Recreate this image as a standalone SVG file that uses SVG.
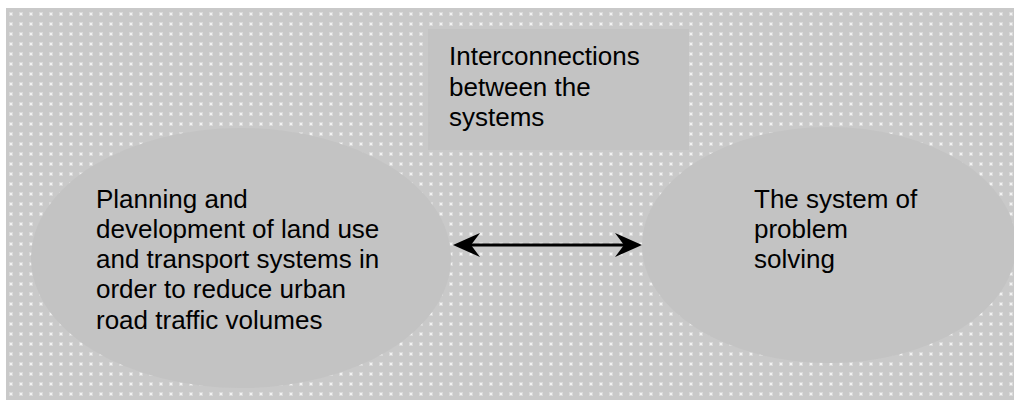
<svg xmlns="http://www.w3.org/2000/svg" width="1014" height="403" viewBox="0 0 1014 403">
  <defs>
    <!-- dotted backdrop: grey field with small light squares every 10px -->
    <pattern id="dots" x="6" y="9" width="10" height="10" patternUnits="userSpaceOnUse">
      <rect width="10" height="10" fill="#c9c9c9"/>
      <rect x="3" y="3" width="4" height="4" fill="#d9d9d9"/>
      <rect x="4" y="4" width="2" height="2" fill="#f2f2f2"/>
    </pattern>
    <!-- barbed arrowhead, tip at the far end of the path -->
    <marker id="head" viewBox="0 0 28 26" refX="22" refY="13" markerWidth="28" markerHeight="26" markerUnits="userSpaceOnUse" orient="auto-start-reverse">
      <path d="M28,13 L1,1 L10,13 L1,25 Z" fill="#000"/>
    </marker>
  </defs>
  <style>
    .shape { fill: #c3c3c3; }
    .label { font-family: "Liberation Sans", Arial, sans-serif; font-size: 26px; fill: #000; }
  </style>

  <rect x="0" y="0" width="1014" height="403" fill="#ffffff"/>
  <rect x="6" y="8" width="1008" height="392" fill="url(#dots)"/>

  <g id="interconnections">
    <rect class="shape" x="428" y="29" width="261" height="121"/>
    <text class="label" x="449" y="65">Interconnections</text>
    <text class="label" x="449" y="96">between the</text>
    <text class="label" x="449" y="126">systems</text>
  </g>

  <g id="planning">
    <ellipse class="shape" cx="241" cy="258" rx="210" ry="130"/>
    <text class="label" x="96" y="208">Planning and</text>
    <text class="label" x="96" y="238">development of land use</text>
    <text class="label" x="96" y="268">and transport systems in</text>
    <text class="label" x="96" y="298">order to reduce urban</text>
    <text class="label" x="96" y="329">road traffic volumes</text>
  </g>

  <g id="problem-solving">
    <ellipse class="shape" cx="829" cy="245" rx="187" ry="118"/>
    <text class="label" x="754" y="208">The system of</text>
    <text class="label" x="754" y="238">problem</text>
    <text class="label" x="754" y="268">solving</text>
  </g>

  <g id="connectors">
    <line x1="459" y1="245" x2="636" y2="245" stroke="#000" stroke-width="3" marker-start="url(#head)" marker-end="url(#head)"/>
  </g>
</svg>
